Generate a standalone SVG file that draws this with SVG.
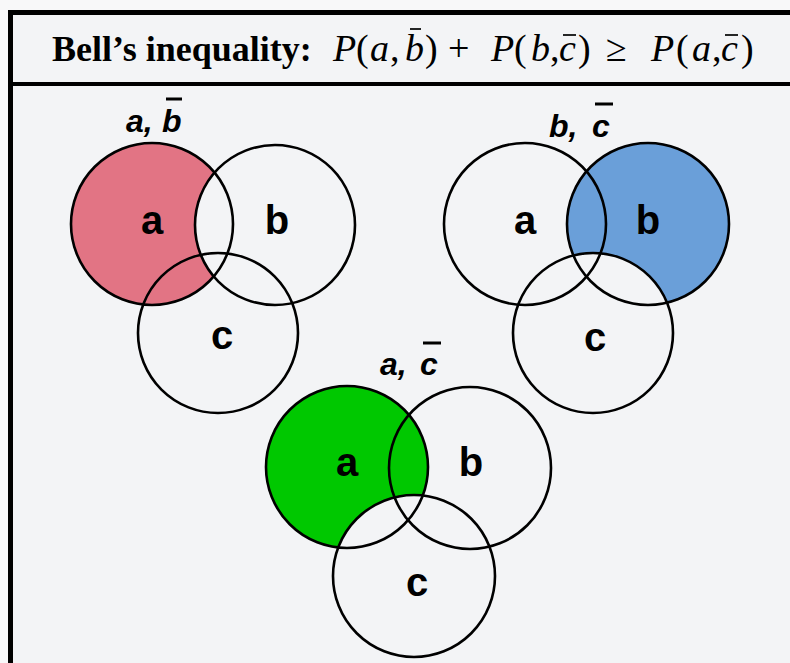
<svg xmlns="http://www.w3.org/2000/svg" width="790" height="663" viewBox="0 0 790 663">
<style>
.ring{fill:none;stroke:#000;stroke-width:2.6}
.lbl{font-family:"Liberation Sans",Arial,sans-serif;font-weight:bold;font-size:40px;text-anchor:middle;fill:#000}
.ttl{font-family:"Liberation Sans",Arial,sans-serif;font-weight:bold;font-style:italic;font-size:32px;fill:#000}
.bar{stroke:#000;stroke-width:3}
.mbar{stroke:#000;stroke-width:1.7}
.hd{font-family:"Liberation Serif","Times New Roman",serif;font-size:36px;fill:#000}
.mt{font-family:"Liberation Serif","Times New Roman",serif;font-size:38px;fill:#000}
.it{font-style:italic}
</style>
<defs>
<mask id="mAB"><rect width="790" height="663" fill="#fff"/><circle cx="275" cy="225" r="80" fill="#000"/></mask>
<mask id="mBC"><rect width="790" height="663" fill="#fff"/><circle cx="593" cy="333" r="80" fill="#000"/></mask>
<mask id="mAC"><rect width="790" height="663" fill="#fff"/><circle cx="414" cy="576" r="81" fill="#000"/></mask>
</defs>
<rect width="790" height="663" fill="#f8f8f9"/>
<rect x="10" y="12" width="780" height="651" fill="#f3f4f6"/>
<g id="frame">
<line x1="8" y1="12.5" x2="790" y2="12.5" stroke="#000" stroke-width="5"/>
<line x1="10" y1="84" x2="790" y2="84" stroke="#000" stroke-width="4"/>
<line x1="10.5" y1="10" x2="10.5" y2="663" stroke="#000" stroke-width="5"/>
</g>
<g id="header">
<text class="hd" x="52" y="61" font-weight="bold">Bell’s inequality:</text>
<text class="mt" y="61"><tspan class="it" x="333">P</tspan><tspan x="356">(</tspan><tspan class="it" x="370">a</tspan><tspan x="390">,</tspan><tspan class="it" x="405">b</tspan><tspan x="425">)</tspan><tspan x="448">+</tspan><tspan class="it" x="491">P</tspan><tspan x="514">(</tspan><tspan class="it" x="531">b</tspan><tspan x="550">,</tspan><tspan class="it" x="559">c</tspan><tspan x="578">)</tspan><tspan x="606">≥</tspan><tspan class="it" x="651">P</tspan><tspan x="676">(</tspan><tspan class="it" x="692">a</tspan><tspan x="712">,</tspan><tspan class="it" x="721">c</tspan><tspan x="741">)</tspan></text>
<line class="mbar" x1="410" y1="29" x2="421" y2="29"/>
<line class="mbar" x1="563" y1="35" x2="576" y2="35"/>
<line class="mbar" x1="725" y1="35" x2="738" y2="35"/>
</g>
<g id="venn-a-notb">
<circle cx="152" cy="224" r="81" fill="#e27484" mask="url(#mAB)"/>
<g id="ab-circle-a"><circle class="ring" cx="152" cy="224" r="81"/><text class="lbl" x="152" y="234">a</text></g>
<g id="ab-circle-b"><circle class="ring" cx="275" cy="225" r="80"/><text class="lbl" x="277" y="234">b</text></g>
<g id="ab-circle-c"><circle class="ring" cx="218" cy="333" r="80"/><text class="lbl" x="222" y="349">c</text></g>
<text class="ttl" y="132"><tspan x="126">a,</tspan><tspan x="162">b</tspan></text>
<line class="bar" x1="166" y1="99" x2="182" y2="99"/>
</g>
<g id="venn-b-notc">
<circle cx="648" cy="224" r="81" fill="#6a9fd9" mask="url(#mBC)"/>
<g id="bc-circle-a"><circle class="ring" cx="525" cy="224" r="81"/><text class="lbl" x="525" y="234">a</text></g>
<g id="bc-circle-b"><circle class="ring" cx="648" cy="224" r="81"/><text class="lbl" x="648" y="234">b</text></g>
<g id="bc-circle-c"><circle class="ring" cx="593" cy="333" r="80"/><text class="lbl" x="595" y="351">c</text></g>
<text class="ttl" y="137"><tspan x="549">b,</tspan><tspan x="592">c</tspan></text>
<line class="bar" x1="595" y1="104" x2="613" y2="104"/>
</g>
<g id="venn-a-notc">
<circle cx="347" cy="467" r="81" fill="#00c800" mask="url(#mAC)"/>
<g id="ac-circle-a"><circle class="ring" cx="347" cy="467" r="81"/><text class="lbl" x="347" y="476">a</text></g>
<g id="ac-circle-b"><circle class="ring" cx="470" cy="468" r="81"/><text class="lbl" x="471" y="476">b</text></g>
<g id="ac-circle-c"><circle class="ring" cx="414" cy="576" r="81"/><text class="lbl" x="417" y="596">c</text></g>
<text class="ttl" y="375"><tspan x="380">a,</tspan><tspan x="420">c</tspan></text>
<line class="bar" x1="423" y1="343" x2="441" y2="343"/>
</g>
</svg>
